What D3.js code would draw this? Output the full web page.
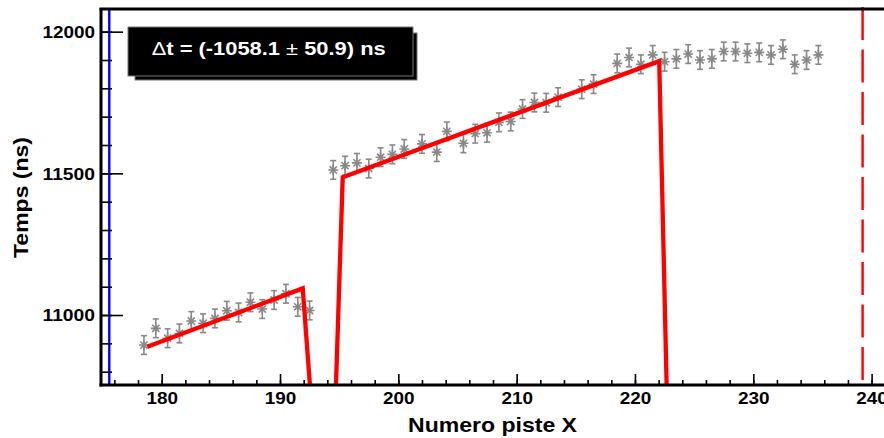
<!DOCTYPE html>
<html><head><meta charset="utf-8">
<script src="https://cdn.jsdelivr.net/npm/d3@7"></script>
<style>html,body{margin:0;padding:0;background:#fff;overflow:hidden}</style>
</head><body><svg id="c" width="884" height="438"></svg>
<script>
// ---- data ----
const strips = [178.5,179.5,180.5,181.5,182.5,183.5,184.5,185.5,186.5,187.5,188.5,189.5,190.5,191.5,192.5,
  194.5,195.5,196.5,197.5,198.5,199.5,200.5,202.0,203.25,204.1,205.5,206.5,207.5,208.5,209.5,210.5,211.5,212.5,213.5,215.5,216.5,
  218.5,219.5,220.5,221.5,222.5,223.5,224.5,225.5,226.5,227.5,228.5,229.5,230.5,231.5,232.5,233.5,234.5,235.5];
const times = [10894,10953,10918,10935,10979,10971,10988,11015,11009,11045,11021,11053,11075,11029,11016,
  11512,11527,11537,11517,11557,11567,11586,11604,11575,11648,11606,11640,11643,11680,11683,11727,11750,11749,11769,11797,11815,
  11888,11909,11885,11918,11894,11904,11921,11900,11904,11930,11930,11924,11927,11918,11938,11885,11900,11918];
const errors = strips.map(() => 33);
const fit1X = [178.78, 191.92, 192.80];
const fit1Y = [10888, 11094, 10600];
const fit2X = [194.61, 195.30, 222.05, 222.76];
const fit2Y = [10600, 11486, 11896, 10600];
const xTicksMajor = [180,190,200,210,220,230,240];
const xTicksMinor = d3.range(176, 243, 2);
const yTicksMajor = [11000,11500,12000];
const yTicksMinor = d3.range(10800, 12001, 100);
const blueLineX = 175.57;
const redDashX = 239.24;
const xTitle = "Numero piste X";
const yTitle = "Temps (ns)";
const legendParts = [["\u0394", "normal"], ["t = (-1058.1 ", "bold"], ["\u00B1", "normal"], [" 50.9) ns", "bold"]];

// ---- chart ----
const svg = d3.select("#c");
const FONT = "'Liberation Sans', Arial, Helvetica, sans-serif";
const x = d3.scaleLinear().domain([174.87, 242.4]).range([101, 900]);
const y = d3.scaleLinear().domain([10753, 12080]).range([385, 9]);

svg.append("defs").append("clipPath").attr("id","plot")
  .append("rect").attr("x",101).attr("y",9).attr("width",800).attr("height",376);

// vertical reference lines
svg.append("line").attr("x1",x(blueLineX)).attr("x2",x(blueLineX)).attr("y1",y.range()[1]).attr("y2",y.range()[0])
  .attr("stroke","#0000ff").attr("stroke-width",2.4);
svg.append("line").attr("x1",x(redDashX)).attr("x2",x(redDashX)).attr("y1",7).attr("y2",y.range()[0])
  .attr("stroke","#ff0000").attr("stroke-width",2.4).attr("stroke-dasharray","33,9.5");

// data points with error bars
const pts = strips.map((s,i)=>({s, t:times[i], e:errors[i]}));
const g = svg.append("g").attr("stroke","#888888").attr("stroke-width",1.6).attr("fill","none");
const pg = g.selectAll("g").data(pts).join("g")
  .attr("transform", d=>`translate(${x(d.s)},0)`);
pg.append("line").attr("x1",0).attr("x2",0).attr("y1",d=>y(d.t-d.e)).attr("y2",d=>y(d.t+d.e));
pg.append("line").attr("x1",-3).attr("x2",3).attr("y1",d=>y(d.t-d.e)).attr("y2",d=>y(d.t-d.e));
pg.append("line").attr("x1",-3).attr("x2",3).attr("y1",d=>y(d.t+d.e)).attr("y2",d=>y(d.t+d.e));
const r = 5;
pg.append("path").attr("d", d=>{const c=y(d.t);
  return `M${-r},${c}H${r}M0,${c-r}V${c+r}M${-r*0.72},${c-r*0.72}L${r*0.72},${c+r*0.72}M${-r*0.72},${c+r*0.72}L${r*0.72},${c-r*0.72}`;});

// fit lines
const line = d3.line().x(d=>x(d[0])).y(d=>y(d[1]));
const fg = svg.append("g").attr("clip-path","url(#plot)");
[[fit1X,fit1Y],[fit2X,fit2Y]].forEach(([fx,fy])=>{
  fg.append("path").attr("d", line(fx.map((v,i)=>[v,fy[i]])))
    .attr("fill","none").attr("stroke","#ff0000").attr("stroke-width",4.3).attr("stroke-linejoin","miter");
});

// axes
const yMinor = svg.append("g").attr("transform","translate(101,0)")
  .call(d3.axisLeft(y).tickValues(yTicksMinor).tickSize(-11).tickFormat(""));
const yMajor = svg.append("g").attr("transform","translate(101,0)")
  .call(d3.axisLeft(y).tickValues(yTicksMajor).tickSize(-22).tickPadding(6).tickFormat(d3.format("d")));
const xMinor = svg.append("g").attr("transform","translate(0,385)")
  .call(d3.axisBottom(x).tickValues(xTicksMinor).tickSize(-5).tickFormat(""));
const xMajor = svg.append("g").attr("transform","translate(0,385)")
  .call(d3.axisBottom(x).tickValues(xTicksMajor).tickSize(-11).tickPadding(7.4).tickFormat(d3.format("d")));
svg.selectAll(".domain").remove();
svg.selectAll(".tick line").attr("stroke","#000").attr("stroke-width",1.6);
svg.selectAll(".tick text").attr("font-family",FONT).attr("font-weight","bold").attr("font-size",16.5).attr("fill","#000")
  .each(function(){const t=d3.select(this); t.attr("textLength", t.text().length*10.5).attr("lengthAdjust","spacingAndGlyphs");});
yMajor.selectAll(".tick text").attr("dy","0.36em");

// frame lines
svg.append("line").attr("x1",101).attr("x2",101).attr("y1",8).attr("y2",386.5).attr("stroke","#000").attr("stroke-width",3);
svg.append("line").attr("x1",99.5).attr("x2",884).attr("y1",385).attr("y2",385).attr("stroke","#000").attr("stroke-width",3);
svg.append("line").attr("x1",99.5).attr("x2",884).attr("y1",9).attr("y2",9).attr("stroke","#000").attr("stroke-width",3);

// titles
svg.append("text").attr("x",492.5).attr("y",431.7).attr("text-anchor","middle")
  .attr("font-family",FONT).attr("font-weight","bold").attr("font-size",21)
  .attr("textLength",169).attr("lengthAdjust","spacingAndGlyphs").text(xTitle);
svg.append("text").attr("transform","translate(28,197.5) rotate(-90)").attr("text-anchor","middle")
  .attr("font-family",FONT).attr("font-weight","bold").attr("font-size",21)
  .attr("textLength",121).attr("lengthAdjust","spacingAndGlyphs").text(yTitle);

// legend box
svg.append("rect").attr("x",135).attr("y",33).attr("width",282).attr("height",47).attr("fill","#000").attr("stroke","#777").attr("stroke-width",1);
svg.append("rect").attr("x",128).attr("y",27).attr("width",285).attr("height",49).attr("fill","#000").attr("stroke","#777").attr("stroke-width",1);
const lt = svg.append("text").attr("x",151.7).attr("y",55).attr("fill","#fff")
  .attr("font-family",FONT).attr("font-size",18)
  .attr("textLength",234).attr("lengthAdjust","spacingAndGlyphs");
legendParts.forEach(([s,w])=>lt.append("tspan").attr("font-weight",w).text(s));
</script>
</body></html>
